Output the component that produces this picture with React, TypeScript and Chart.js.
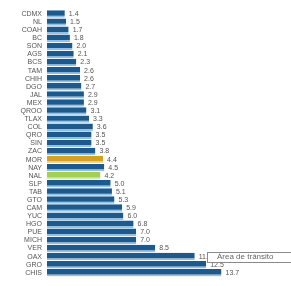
import React, { useEffect, useRef } from "react";
import { Chart, registerables } from "chart.js";

Chart.register(...registerables);

const categories = ["CDMX","NL","COAH","BC","SON","AGS","BCS","TAM","CHIH","DGO","JAL","MEX","QROO","TLAX","COL","QRO","SIN","ZAC","MOR","NAY","NAL","SLP","TAB","GTO","CAM","YUC","HGO","PUE","MICH","VER","OAX","GRO","CHIS"];
const values = [1.4,1.5,1.7,1.8,2.0,2.1,2.3,2.6,2.6,2.7,2.9,2.9,3.1,3.3,3.6,3.5,3.5,3.8,4.4,4.5,4.2,5.0,5.1,5.3,5.9,6.0,6.8,7.0,7.0,8.5,11.6,12.5,13.7];
const highlightYellow = "MOR";
const highlightGreen = "NAL";
const calloutCategory = "OAX";
const calloutText = "Área de tránsito";

const fillFor = (c: string) => c === highlightYellow ? "#d3a126" : c === highlightGreen ? "#a4cf55" : "#1d5a8b";
const edgeFor = (c: string) => c === highlightYellow ? "#f0d88a" : c === highlightGreen ? "#d6eca6" : "#8fc2ea";

const labelPlugin = {
  id: "valueLabels",
  afterDatasetsDraw(chart: any) {
    const ctx = chart.ctx;
    const meta = chart.getDatasetMeta(0);
    ctx.save();
    ctx.font = '7px "Liberation Sans", Arial, sans-serif';
    ctx.fillStyle = "#555";
    ctx.textBaseline = "middle";
    ctx.textAlign = "left";
    meta.data.forEach((bar: any, i: number) => {
      ctx.fillText(values[i].toFixed(1), bar.x + 4, bar.y);
    });
    const ci = categories.indexOf(calloutCategory);
    if (ci >= 0) {
      const bar = meta.data[ci];
      const bx = Math.round(bar.x + 12.5);
      ctx.fillStyle = "#fff";
      ctx.fillRect(bx, bar.y - 6, 100, 12);
      ctx.strokeStyle = "#8a8a8a";
      ctx.lineWidth = 1;
      ctx.strokeRect(bx + 0.5, Math.round(bar.y - 5) + 0.5, 100, 10);
      ctx.fillStyle = "#666";
      ctx.font = '8px "Liberation Sans", Arial, sans-serif';
      ctx.fillText(calloutText, bx + 10, bar.y + 0.5);
    }
    ctx.restore();
  },
};

export default function App() {
  const ref = useRef<HTMLCanvasElement>(null);
  useEffect(() => {
    if (!ref.current) return;
    const chart = new Chart(ref.current, {
      type: "bar",
      data: {
        labels: categories,
        datasets: [{
          data: values,
          backgroundColor: categories.map(fillFor),
          borderColor: categories.map(edgeFor),
          borderWidth: { top: 0, left: 0, right: 0, bottom: 2 } as any,
          borderSkipped: false,
          categoryPercentage: 1,
          barPercentage: 0.92,
        }],
      },
      options: {
        indexAxis: "y",
        animation: false,
        responsive: false,
        maintainAspectRatio: false,
        layout: { padding: { top: 10, bottom: 2, left: 0, right: 2 } },
        plugins: { legend: { display: false }, tooltip: { enabled: false } },
        scales: {
          x: { display: false, min: 0, max: 19 },
          y: {
            afterFit: (s: any) => { s.width = 47; },
            grid: { display: false, drawTicks: false },
            border: { display: false },
            ticks: {
              autoSkip: false,
              padding: 5,
              color: "#555",
              font: { family: '"Liberation Sans Narrow", "Liberation Sans", Arial, sans-serif', size: 7 },
            },
          },
        },
      },
      plugins: [labelPlugin],
    });
    return () => chart.destroy();
  }, []);
  return (
    <div style={{ position: "fixed", left: 0, top: 0, width: 291, height: 286, background: "#fff" }}>
      <canvas ref={ref} width={291} height={286} style={{ width: 291, height: 286 }} />
    </div>
  );
}
